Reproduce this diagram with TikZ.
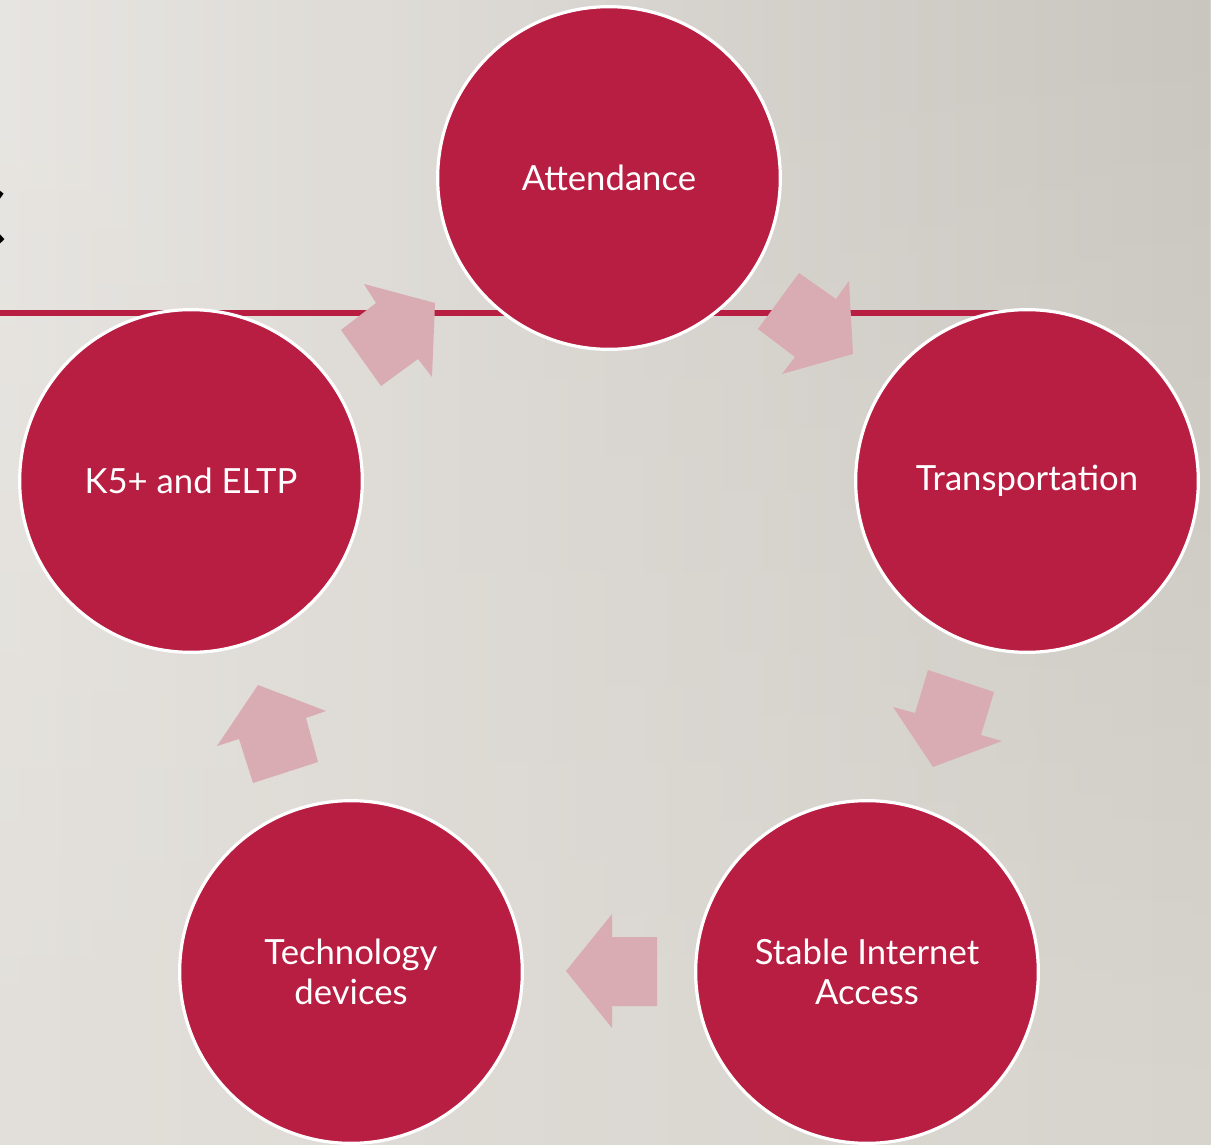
\documentclass[tikz,border=0pt]{standalone}
\usepackage{fontspec}
\usetikzlibrary{shadings,fadings}
\setmainfont{Lato}
\definecolor{disc}{HTML}{B81E42}
\definecolor{blk}{HTML}{D9ABB2}
\definecolor{bgul}{RGB}{232,230,226}
\definecolor{bgur}{RGB}{201,197,191}
\definecolor{bgll}{RGB}{226,223,218}
\definecolor{bglr}{RGB}{216,212,206}
\tikzset{
  stage/.style={circle, fill=disc, draw=white, line width=2.4pt, minimum size=257pt, inner sep=0pt,
    text=white, align=center, font=\fontsize{26}{29.5}\selectfont},
  blockarrow/.style={fill=blk, draw=none}
}
\begin{document}
\begin{tikzpicture}[x=0.75pt,y=-0.75pt]
\useasboundingbox (0,0) rectangle (1211,1145);
\shade[left color=bgll, right color=bglr] (0,0) rectangle (1211,1145);
\shade[left color=bgul, right color=bgur, path fading=south] (0,0) rectangle (1211,1145);
\begin{scope}
\clip (0,0) rectangle (1211,1145);
\node[anchor=east, inner sep=0pt, font=\fontsize{64}{64}\selectfont\bfseries, text=black] (title) at (6,218) {C};
\end{scope}
% red rule
\fill[disc] (0,310) rectangle (1000,316);
% stages
\node[stage] (att) at (609,178) {Attendance};
\node[stage] (tra) at (1027,481) {Transportation};
\node[stage] (sta) at (867,972) {Stable Internet\\Access};
\node[stage] (tec) at (351,972) {Technology\\devices};
\node[stage] (k5)  at (191,481) {K5+ and ELTP};
% block arrows
\fill[blockarrow] (341,330) -- (376,303) -- (364,284) -- (435,303) -- (432,377) -- (418,359) -- (381,386) -- cycle;
\fill[blockarrow] (758,329) -- (799,273) -- (836,299) -- (849,281) -- (853,354) -- (782,374) -- (795,357) -- cycle;
\fill[blockarrow] (928,670) -- (994,692) -- (981,735) -- (1002,741) -- (933,767) -- (893,707) -- (915,713) -- cycle;
\fill[blockarrow] (657,937) -- (612,937) -- (612,914) -- (566,971) -- (612,1028) -- (612,1006) -- (657,1006) -- cycle;
\fill[blockarrow] (253,783) -- (239,739) -- (217,746) -- (258,685) -- (326,711) -- (306,718) -- (318,762) -- cycle;
\end{tikzpicture}
\end{document}
